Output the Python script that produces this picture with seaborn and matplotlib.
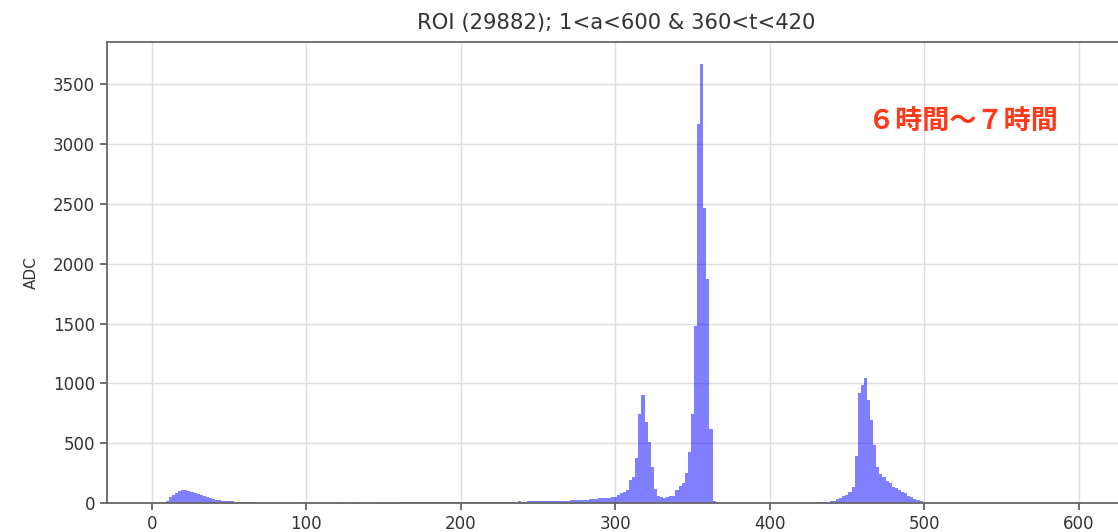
import numpy as np
import pandas as pd
import matplotlib
matplotlib.use("Agg")
import matplotlib.pyplot as plt
import seaborn as sns

# ---- data: counts per 2-wide bin, bins start at a=1 ----
lead_zero = [0, 0, 0, 0]
low_bump = [20, 50, 70, 85, 100, 110, 108, 100, 92, 85, 75, 65, 55, 47, 40, 34,
            28, 24, 20, 18, 15, 13, 11, 10, 8, 7]
base_61_101 = [6, 5, 5, 4, 4, 3, 4, 3, 3, 4, 3, 2, 3, 3, 2, 3, 2, 3, 10, 3]
base_101_151 = [2, 3, 2, 3, 3, 4, 3, 2, 3, 10, 3, 4, 3, 4, 3, 5, 3, 4, 4, 3, 4, 3, 5, 4, 3]
base_151_201 = [4, 5, 4, 6, 4, 5, 5, 4, 6, 5, 5, 6, 5, 9, 5, 6, 6, 5, 7, 6, 6, 7, 6, 8, 7]
base_201_251 = [8, 7, 9, 8, 9, 10, 9, 10, 9, 11, 10, 10, 12, 11, 10, 12, 11, 12, 13, 12,
                12, 14, 13, 14, 15]
base_251_291 = [14, 15, 16, 15, 17, 16, 18, 17, 19, 20, 21, 22, 24, 23, 26, 28, 30, 32, 35, 38]
base_291_301 = [40, 42, 45, 48, 50]
peak_318 = [70, 80, 90, 110, 190, 220, 375, 740, 900, 680, 510, 300, 120, 55]
valley_329 = [50, 45, 48, 55]
peak_356 = [60, 105, 140, 170, 250, 430, 740, 1480, 3170, 3670, 2470, 1870, 620, 20]
gap_365_431 = [3, 2, 1, 1, 0, 0, 1, 0, 0, 0, 0, 1, 0, 0, 0, 0, 0, 0, 0, 1, 0, 0, 0, 0,
               0, 0, 1, 0, 0, 0, 1, 2, 3]
rise_431_445 = [8, 10, 12, 12, 15, 20, 30]
peak_462 = [40, 55, 67, 95, 137, 390, 920, 990, 1047, 862, 695, 486, 304, 240, 220,
            180, 167, 135, 125, 110, 90, 80, 60, 50, 35, 28, 15, 8]
tail_501_601 = [3] + [0] * 49

counts = (lead_zero + low_bump + base_61_101 + base_101_151 + base_151_201 +
          base_201_251 + base_251_291 + base_291_301 + peak_318 + valley_329 +
          peak_356 + gap_365_431 + rise_431_445 + peak_462 + tail_501_601)

title_text = "ROI (29882); 1<a<600 & 360<t<420"
ylabel_text = "ADC"
note_text = "６時間～７時間"
xticks = [0, 100, 200, 300, 400, 500, 600]
yticks = [0, 500, 1000, 1500, 2000, 2500, 3000, 3500]

edges = [1 + 2 * i for i in range(len(counts) + 1)]
centers = [e + 1.0 for e in edges[:-1]]
df = pd.DataFrame({"a": centers, "n": [float(c) for c in counts]})

sns.set_theme(style="ticks")
plt.rcParams["font.family"] = ["DejaVu Sans"]

fig = plt.figure(figsize=(11.18, 5.32), dpi=100)
ax = fig.add_axes([107 / 1118, 29 / 532, (1125 - 107) / 1118, (503 - 42) / 532])

sns.histplot(data=df, x="a", weights="n", bins=edges, color="blue", alpha=0.5,
             linewidth=0, ax=ax)

ax.set_xlim(-29, 630)
ax.set_ylim(0, 3670 * 1.05)
ax.set_xticks(xticks)
ax.set_yticks(yticks)
ax.grid(True, color="#dddddd", linewidth=1.0)
ax.set_axisbelow(True)
for s in ax.spines.values():
    s.set_color("#666666")
    s.set_linewidth(1.3)
ax.tick_params(axis="both", labelsize=12, colors="#333333", length=5, width=1.2)
ax.tick_params(axis="both", color="#555555")
ax.set_xlabel("")
ax.set_ylabel(ylabel_text, fontsize=11, color="#333333", labelpad=10)
ax.set_title(title_text, fontsize=15.2, color="#333333", pad=9)

ax.text(525, 3190, note_text, color="#ff3a1a", fontsize=19.5, fontweight="bold",
        ha="center", va="center", family=["Noto Sans CJK JP", "DejaVu Sans"])

fig.savefig("out.png", dpi=100)
